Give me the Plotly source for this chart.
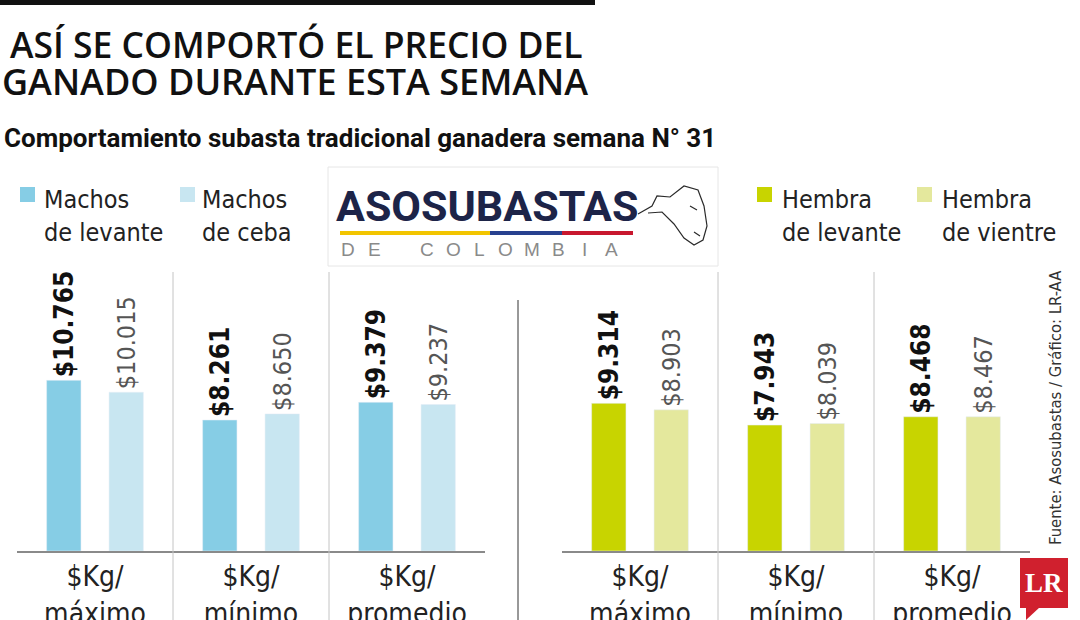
import plotly.graph_objects as go

# Datos (precio $ por kg, semana N° 31)
grupos = ["$Kg/<br>máximo", "$Kg/<br>mínimo", "$Kg/<br>promedio"]
machos_levante = [10765, 8261, 9379]
machos_ceba = [10015, 8650, 9237]
hembra_levante = [9314, 7943, 8468]
hembra_vientre = [8903, 8039, 8467]

series_legend = ["Machos<br>de levante", "Machos<br>de ceba", "Hembra<br>de levante", "Hembra<br>de vientre"]
colores = ["#86CDE5", "#C8E6F1", "#C8D400", "#E4E89D"]

FUENTE = "DejaVu Sans Condensed, Roboto, sans-serif"
W, H = 1080, 620
TOP, BASE = 272, 551  # pixeles del area de barras


def fmt(v):
    return "$" + f"{v:,}".replace(",", ".")


def px(x):
    return x / W


def py(y):
    return (BASE - y) / (BASE - TOP)


fig = go.Figure()

pares = [
    (machos_levante, machos_ceba, colores[0], colores[1], "x", "y"),
    (hembra_levante, hembra_vientre, colores[2], colores[3], "x2", "y"),
]
for fuerte, suave, c1, c2, xa, ya in pares:
    fig.add_trace(go.Bar(
        x=grupos, y=fuerte, marker_color=c1, xaxis=xa, yaxis=ya,
        text=["<b>" + fmt(v) + "</b>" for v in fuerte], textposition="outside",
        textangle=-90, constraintext="none", cliponaxis=False,
        textfont=dict(family=FUENTE, size=26, color="#111"),
        showlegend=False, hoverinfo="skip",
    ))
    fig.add_trace(go.Bar(
        x=grupos, y=suave, marker_color=c2, xaxis=xa, yaxis=ya,
        text=[fmt(v) for v in suave], textposition="outside",
        textangle=-90, constraintext="none", cliponaxis=False,
        textfont=dict(family=FUENTE, size=25, color="#555"),
        showlegend=False, hoverinfo="skip",
    ))

eje_x = dict(
    showline=True, linecolor="#8a8a8a", linewidth=1.5, showgrid=False,
    zeroline=False, ticks="", range=[-0.5, 2.5], ticklabelstandoff=0, automargin=False,
    tickfont=dict(family=FUENTE, size=28, color="#222"),
)
fig.update_layout(
    width=W, height=H,
    margin=dict(l=0, r=0, t=TOP, b=H - BASE),
    paper_bgcolor="white", plot_bgcolor="white",
    barmode="group", bargap=0.2, bargroupgap=0.45,
    xaxis=dict(domain=[px(17), px(485)], **eje_x),
    xaxis2=dict(domain=[px(562), px(1030)], anchor="y", **eje_x),
    yaxis=dict(range=[0, 17600], visible=False, automargin=False),
    font=dict(family=FUENTE),
)

shapes = []
# separadores de grupos
for xa in ["x", "x2"]:
    for b in [0.5, 1.5]:
        shapes.append(dict(type="line", xref=xa, yref="paper", x0=b, x1=b,
                           y0=py(H), y1=py(TOP), line=dict(color="#c4c4c4", width=1)))
# linea entre paneles
shapes.append(dict(type="line", xref="paper", yref="paper", x0=px(518), x1=px(518),
                   y0=py(H), y1=py(300), line=dict(color="#333", width=1)))
# barra superior del titulo
shapes.append(dict(type="rect", xref="paper", yref="paper", x0=0, x1=px(595),
                   y0=py(5), y1=py(0), fillcolor="#111", line_width=0))
# recuadro del logo
shapes.append(dict(type="rect", xref="paper", yref="paper", x0=px(328), x1=px(718),
                   y0=py(266), y1=py(167), fillcolor="white", line=dict(color="#e6e6e6", width=1)))
# franja tricolor
for a, b, c in [(340, 490, "#F2C500"), (490, 562, "#27418F"), (562, 633, "#C8172E")]:
    shapes.append(dict(type="line", xref="paper", yref="paper", x0=px(a), x1=px(b),
                       y0=py(233), y1=py(233), line=dict(color=c, width=4)))
# cabeza de ganado (trazo simple)
cabeza = [(638, 214), (652, 206), (657, 196), (670, 197), (684, 186), (698, 190),
          (704, 206), (707, 226), (703, 240), (694, 245), (684, 238), (674, 224), (662, 212), (648, 213)]
ruta = "M " + " L ".join(f"{px(a)} {py(b)}" for a, b in cabeza)
shapes.append(dict(type="path", xref="paper", yref="paper", path=ruta,
                   line=dict(color="#2a2a2a", width=1.2)))
shapes.append(dict(type="path", xref="paper", yref="paper",
                   path=f"M {px(690)} {py(206)} L {px(697)} {py(210)} M {px(694)} {py(232)} L {px(700)} {py(236)}",
                   line=dict(color="#2a2a2a", width=1.2)))
# cuadros de la leyenda
for x0, c in zip([20, 180, 757, 917], colores):
    shapes.append(dict(type="rect", xref="paper", yref="paper", x0=px(x0), x1=px(x0 + 15),
                       y0=py(202), y1=py(187), fillcolor=c, line_width=0))
# logo LR
shapes.append(dict(type="rect", xref="paper", yref="paper", x0=px(1020), x1=px(1068),
                   y0=py(608), y1=py(558), fillcolor="#D0202E", line_width=0))
shapes.append(dict(type="path", xref="paper", yref="paper",
                   path=f"M {px(1026)} {py(607)} L {px(1026)} {py(620)} L {px(1040)} {py(607)} Z",
                   fillcolor="#D0202E", line_width=0))
fig.update_layout(shapes=shapes)

anots = []


def nota(texto, x, y, size, color="#111", xanchor="left", yanchor="middle", familia=FUENTE,
         angulo=0, peso="normal"):
    anots.append(dict(text=texto, x=px(x), y=py(y), xref="paper", yref="paper", align="left",
                      xanchor=xanchor, yanchor=yanchor, showarrow=False, textangle=angulo,
                      font=dict(family=familia, size=size, color=color, weight=peso)))


nota("ASÍ SE COMPORTÓ EL PRECIO DEL", 8, 44, 35.5, familia="Open Sans, sans-serif", peso=600)
nota("GANADO DURANTE ESTA SEMANA", 0, 81, 36, familia="Open Sans, sans-serif", peso=600)
nota("<b>Comportamiento subasta tradicional ganadera semana N° 31</b>", 2, 138, 26,
     familia="Roboto, sans-serif")

for x0, txt in zip([42, 200, 780, 940], series_legend):
    nota(txt, x0, 216, 25, color="#222")

nota("<b>ASOSUBASTAS</b>", 487, 206, 43, color="#1D2448", xanchor="center", familia="Roboto, sans-serif")
letras = list("DE") + [""] + list("COLOMBIA")
for i, l in enumerate(letras):
    if l:
        nota(l, 348 + i * 26.3, 249, 19, color="#8a8a8a", xanchor="center",
             familia="Liberation Sans, Arial, sans-serif")

nota("Fuente: Asosubastas / Gráfico: LR-AA", 1055, 408, 16.5, color="#333", xanchor="center", angulo=-90)
nota("<b>LR</b>", 1044, 583, 27, color="white", xanchor="center", familia="Liberation Serif, DejaVu Serif, serif")

fig.update_layout(annotations=anots)

fig.write_html("out.html", config={"displayModeBar": False},
               post_script="document.body.style.margin='0';")
